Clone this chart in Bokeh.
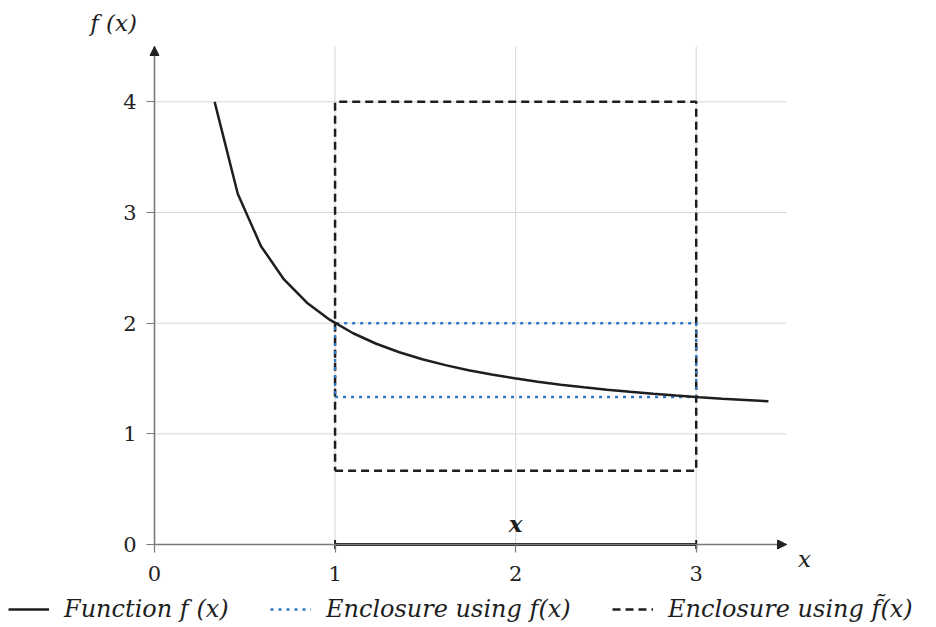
from bokeh.plotting import figure
from bokeh.models import (Range1d, LinearAxis, FixedTicker, Arrow, NormalHead,
                          Legend, LegendItem, Label)
from bokeh.embed import file_html
from bokeh.resources import INLINE
import math

# ---- data ----
x_vals = [0.333, 0.461, 0.589, 0.717, 0.844, 0.972, 1.100, 1.228, 1.356, 1.483,
          1.611, 1.739, 1.867, 1.994, 2.122, 2.250, 2.378, 2.506, 2.633, 2.761,
          2.889, 3.017, 3.144, 3.272, 3.400]
f_vals = [4.000, 3.169, 2.698, 2.395, 2.185, 2.029, 1.909, 1.814, 1.737, 1.674,
          1.621, 1.575, 1.536, 1.502, 1.471, 1.444, 1.421, 1.399, 1.380, 1.362,
          1.346, 1.331, 1.318, 1.306, 1.294]
interval_x = [1.0, 3.0]               # the interval x
enclosure_f = [1.333, 2.0]            # enclosure using f(x)
enclosure_ftilde = [0.667, 4.0]       # enclosure using f~(x)
x_ticks = [0, 1, 2, 3]
y_ticks = [0, 1, 2, 3, 4]
x_max = 3.5
y_max = 4.5
legend_labels = ["Function f (x)", "Enclosure using f(x)", "Enclosure using f\u0303(x)"]

FONT = "DejaVu Serif"
GRID = "#d6d6d6"
AXIS = "#7a7a7a"
BLACK = "#1e1e1e"
BLUE = "#2f78c4"

W, H = 936, 627
left_px, bottom_px, right_px, top_px = 154, 83, 150, 46
sx = (W - left_px - right_px) / x_max
sy = (H - bottom_px - top_px) / y_max

p = figure(width=W, height=H, output_backend="svg", toolbar_location=None,
           x_range=Range1d(-left_px / sx, x_max + right_px / sx),
           y_range=Range1d(-bottom_px / sy, y_max + top_px / sy),
           x_axis_location=None, y_axis_location=None, min_border=0)
p.outline_line_color = None
p.grid.visible = False
p.background_fill_color = "white"
p.border_fill_color = "white"

# grid lines
gx = [t for t in x_ticks if t > 0]
gy = [t for t in y_ticks if t > 0]
p.segment(x0=gx, y0=0, x1=gx, y1=y_max, line_color=GRID, line_width=1)
p.segment(x0=0, y0=gy, x1=x_max, y1=gy, line_color=GRID, line_width=1)

# axes
xaxis = LinearAxis(fixed_location=0, bounds=(0, x_max), ticker=FixedTicker(ticks=x_ticks))
yaxis = LinearAxis(fixed_location=0, bounds=(0, y_max), ticker=FixedTicker(ticks=y_ticks))
for ax in (xaxis, yaxis):
    ax.axis_line_color = AXIS
    ax.axis_line_width = 1.6
    ax.major_tick_line_color = AXIS
    ax.major_tick_line_width = 1.2
    ax.major_tick_out = 8
    ax.major_tick_in = 0
    ax.minor_tick_out = 0
    ax.minor_tick_in = 0
    ax.major_label_text_font = FONT
    ax.major_label_text_font_size = "21px"
    ax.major_label_text_color = "#222222"
xaxis.major_label_standoff = 13
yaxis.major_label_standoff = 10
p.add_layout(xaxis, "below")
p.add_layout(yaxis, "left")

p.add_layout(Arrow(end=NormalHead(size=9, fill_color="#222222", line_color="#222222", line_width=1),
                   x_start=x_max - 0.05, y_start=0, x_end=x_max, y_end=0, line_alpha=0))
p.add_layout(Arrow(end=NormalHead(size=9, fill_color="#222222", line_color="#222222", line_width=1),
                   x_start=0, y_start=y_max - 0.08, x_end=0, y_end=y_max, line_alpha=0))

# enclosures
def box(lo, hi):
    return ([interval_x[0], interval_x[1], interval_x[1], interval_x[0], interval_x[0]],
            [lo, lo, hi, hi, lo])

bx, by = box(*enclosure_ftilde)
r_tilde = p.line(bx, by, line_color=BLACK, line_width=2.5, line_dash="8 5")
bx, by = box(*enclosure_f)
r_f = p.line(bx, by, line_color=BLUE, line_width=2.5, line_dash="3 5")

# function
r_fun = p.line(x_vals, f_vals, line_color=BLACK, line_width=2.5)

# interval x on the axis
p.segment(x0=interval_x[0], y0=0, x1=interval_x[1], y1=0, line_color=BLACK, line_width=3)
p.scatter(interval_x, [0, 0], marker="dash", angle=math.pi / 2, size=9,
          line_color=BLACK, line_width=2)
p.add_layout(Label(x=sum(interval_x) / 2, y=0, y_offset=8, text="x", text_align="center",
                   text_baseline="bottom", text_font=FONT, text_font_style="bold italic",
                   text_font_size="23px", text_color=BLACK))

# axis titles
p.add_layout(Label(x=0, y=y_max, x_offset=-41, y_offset=24, text="f (x)", text_align="center",
                   text_baseline="middle", text_font=FONT, text_font_style="italic",
                   text_font_size="23px", text_color=BLACK))
p.add_layout(Label(x=x_max, y=0, x_offset=18, y_offset=-14, text="x", text_align="center",
                   text_baseline="middle", text_font=FONT, text_font_style="italic",
                   text_font_size="23px", text_color=BLACK))

# legend: three entries pinned at their positions
for label, rend, xpos in zip(legend_labels, [r_fun, r_f, r_tilde], [8, 270, 612]):
    lg = Legend(items=[LegendItem(label=label, renderers=[rend])],
                orientation="horizontal", location=(xpos, 4), padding=0, margin=0,
                glyph_width=41, glyph_height=20, label_standoff=15,
                border_line_color=None, background_fill_alpha=0,
                label_text_font=FONT, label_text_font_style="italic",
                label_text_font_size="24px", label_text_color=BLACK)
    p.add_layout(lg, "center")

open("out.html", "w").write(file_html(p, INLINE))
